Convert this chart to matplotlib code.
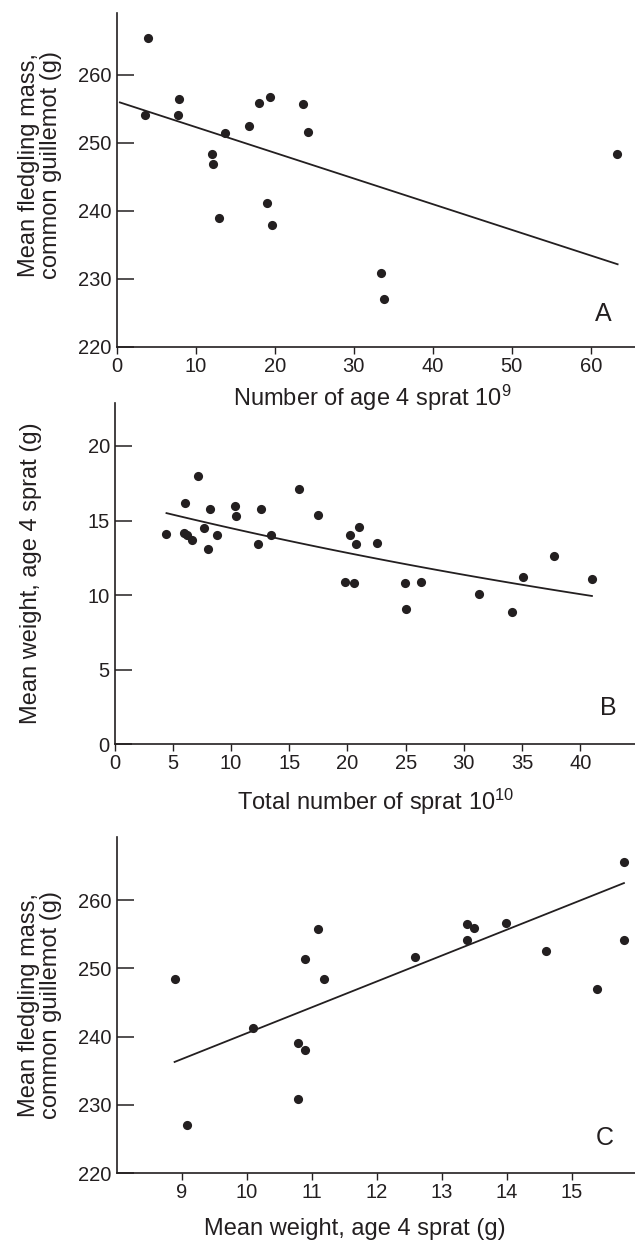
# Guillemot fledging mass vs sprat stock: three stacked scatter panels
import numpy as np
import matplotlib
matplotlib.use("Agg")
import matplotlib.pyplot as plt

plt.rcParams['font.family'] = ['Liberation Sans', 'DejaVu Sans']
plt.rcParams['mathtext.default'] = 'regular'

INK = '#231f20'

# panel A: number of age 4 sprat (10^9) vs mean fledgling mass (g)
a_sprat = [4.0, 3.6, 7.7, 7.9, 12.0, 12.2, 13.7, 12.9, 16.8, 18.0,
           19.4, 19.0, 19.7, 23.6, 24.2, 33.5, 33.8, 63.3]
a_mass = [265.4, 254.1, 254.1, 256.4, 248.4, 246.9, 251.4, 239.0, 252.5, 255.9,
          256.7, 241.2, 237.9, 255.7, 251.6, 230.8, 227.0, 248.4]
a_fit = (256.1, -0.378)          # intercept, slope
a_fit_range = (0.4, 63.4)

# panel B: total number of sprat (10^10) vs mean weight of age 4 sprat (g)
b_total = [4.45, 6.04, 5.97, 6.18, 6.67, 7.15, 7.7, 7.98, 8.16, 8.75,
           10.37, 10.4, 12.3, 12.6, 13.46, 15.8, 17.44, 19.8, 20.2, 20.6,
           20.7, 20.95, 22.5, 24.95, 25.0, 26.3, 31.3, 34.1, 35.05, 37.7, 41.0]
b_weight = [14.1, 16.2, 14.2, 14.0, 13.7, 18.0, 14.5, 13.1, 15.8, 14.0,
            16.0, 15.3, 13.4, 15.8, 14.0, 17.1, 15.4, 10.9, 14.0, 10.8,
            13.4, 14.6, 13.5, 10.8, 9.1, 10.9, 10.1, 8.9, 11.2, 12.6, 11.1]
b_fit = (16.36, -0.01214)        # y = a * exp(b * x)
b_fit_range = (4.45, 41.0)

# panel C: mean weight of age 4 sprat (g) vs mean fledgling mass (g)
c_weight = [15.8, 15.8, 15.39, 14.6, 13.98, 13.39, 13.5, 13.39, 12.59, 11.09,
            10.89, 11.19, 8.89, 10.09, 10.79, 10.89, 10.79, 9.08]
c_mass = [265.5, 254.1, 246.9, 252.6, 256.7, 256.5, 255.9, 254.2, 251.7, 255.7,
          251.4, 248.5, 248.5, 241.3, 239.1, 238.1, 230.9, 227.1]
c_fit = (202.6, 3.79)
c_fit_range = (8.89, 15.8)


def style_axes(ax, xticks, yticks, xlim, ylim):
    ax.patch.set_visible(False)   # keep the label of the panel above visible
    ax.spines['right'].set_color('none')
    ax.spines['top'].set_color('none')
    for s in ('left', 'bottom'):
        ax.spines[s].set_linewidth(1.2)
        ax.spines[s].set_color(INK)
    ax.set_xlim(*xlim)
    ax.set_ylim(*ylim)
    ax.set_xticks(xticks)
    ax.set_yticks(yticks)
    ax.tick_params(axis='y', direction='in', length=12.5, width=1.1,
                   pad=3.5, labelsize=14.5, colors=INK)
    ax.tick_params(axis='x', direction='out', length=4.8, width=1.0,
                   pad=2.5, labelsize=14.5, colors=INK)


def dots(ax, x, y):
    ax.plot(x, y, 'o', color=INK, markersize=6.6, markeredgewidth=0)


fig = plt.figure(figsize=(6.35, 12.41), dpi=100)

# ---- A
ax = fig.add_axes([0.1838, 0.7206, 0.8162, 0.2689])
style_axes(ax, range(0, 61, 10), range(220, 261, 10), (0, 65.6), (220, 269.1))
dots(ax, a_sprat, a_mass)
xf = np.array(a_fit_range)
ax.plot(xf, a_fit[0] + a_fit[1] * xf, color=INK, lw=1.3)
ax.set_xlabel('Number of age 4 sprat $10^{9}$', fontsize=17, color=INK)
ax.xaxis.label.set_va('center')
ax.xaxis.set_label_coords(0.4926, -0.152)
ax.set_ylabel('Mean fledgling mass,\ncommon guillemot (g)', fontsize=17,
              color=INK, linespacing=1.0)
ax.yaxis.set_label_coords(-0.105, 0.545)
ax.text(0.938, 0.098, 'A', transform=ax.transAxes, fontsize=18,
        ha='center', va='center', color=INK)

# ---- B
ax = fig.add_axes([0.1806, 0.4002, 0.8194, 0.2753])
style_axes(ax, range(0, 41, 5), range(0, 21, 5), (0, 44.7), (0, 22.9))
dots(ax, b_total, b_weight)
xf = np.linspace(b_fit_range[0], b_fit_range[1], 100)
ax.plot(xf, b_fit[0] * np.exp(b_fit[1] * xf), color=INK, lw=1.3)
ax.set_xlabel('Total number of sprat $10^{10}$', fontsize=17, color=INK)
ax.xaxis.label.set_va('center')
ax.xaxis.set_label_coords(0.502, -0.168)
ax.set_ylabel('Mean weight, age 4 sprat (g)', fontsize=17, color=INK)
ax.yaxis.set_label_coords(-0.139, 0.5)
ax.text(0.948, 0.105, 'B', transform=ax.transAxes, fontsize=18,
        ha='center', va='center', color=INK)

# ---- C
ax = fig.add_axes([0.1838, 0.0546, 0.8162, 0.2708])
style_axes(ax, range(9, 16), range(220, 261, 10), (8.0, 15.97), (220, 269.2))
dots(ax, c_weight, c_mass)
xf = np.array(c_fit_range)
ax.plot(xf, c_fit[0] + c_fit[1] * xf, color=INK, lw=1.3)
ax.set_xlabel('Mean weight, age 4 sprat (g)', fontsize=17, color=INK)
ax.xaxis.label.set_va('center')
ax.xaxis.set_label_coords(0.459, -0.165)
ax.set_ylabel('Mean fledgling mass,\ncommon guillemot (g)', fontsize=17,
              color=INK, linespacing=1.0)
ax.yaxis.set_label_coords(-0.105, 0.5)
ax.text(0.942, 0.104, 'C', transform=ax.transAxes, fontsize=18,
        ha='center', va='center', color=INK)

fig.savefig('out.png', dpi=100)
